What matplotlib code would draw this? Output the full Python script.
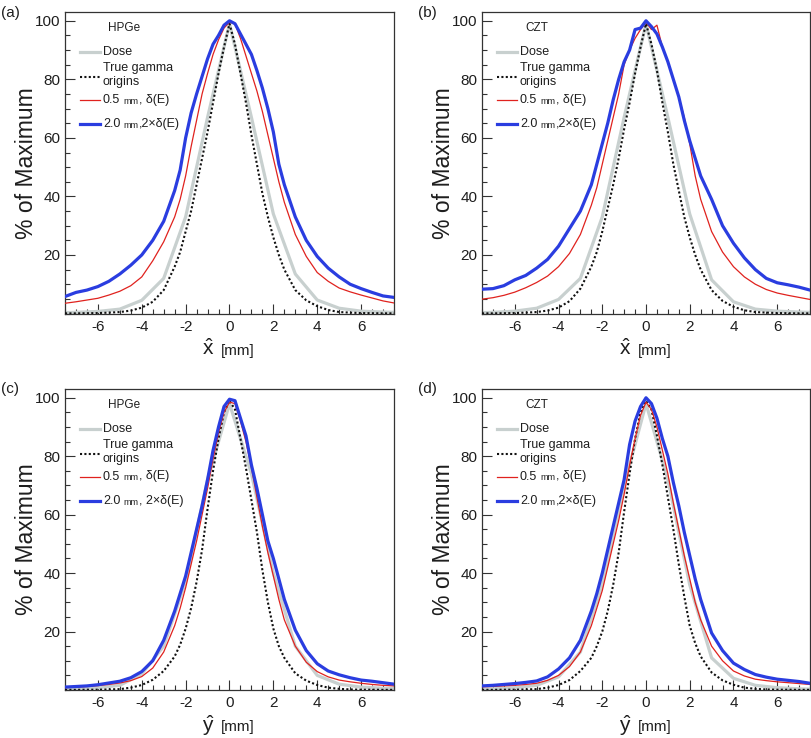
import matplotlib
matplotlib.use("Agg")
import matplotlib.pyplot as plt
from matplotlib.lines import Line2D
from matplotlib.ticker import MultipleLocator

plt.rcParams['font.family'] = ['Liberation Sans', 'DejaVu Sans']
plt.rcParams['mathtext.fontset'] = 'custom'
plt.rcParams['mathtext.rm'] = 'Liberation Sans'

# ---------------- data ----------------
X = [-7.5, -7, -6.5, -6, -5.5, -5, -4.5, -4, -3.5, -3,
     -2.5, -2.25, -2, -1.75, -1.5, -1.25, -1, -0.75, -0.5, -0.25, 0,
     0.25, 0.5, 0.75, 1, 1.25, 1.5, 1.75, 2, 2.25, 2.5,
     3, 3.5, 4, 4.5, 5, 5.5, 6, 6.5, 7, 7.5]
DX = [-7.5, -7, -6, -5, -4, -3, -2, -1, 0, 1, 2, 3, 4, 5, 6, 7, 7.5]

# (a) HPGe, x-hat
dose_a = [0.3, 0.4, 0.7, 1.5, 4.5, 12, 33, 67, 99, 67, 34, 13.5, 4.6, 1.8, 0.8, 0.5, 0.4]
true_a = [0.05, 0.05, 0.1, 0.15, 0.3, 0.5, 1.0, 2.0, 4.0, 8.0,
          16, 21, 28, 35, 44, 53, 62, 72, 82, 91, 99,
          92, 82, 72, 61, 51, 41, 33, 26, 20, 15,
          8, 4.5, 2.5, 1.2, 0.5, 0.3, 0.15, 0.1, 0.05, 0.05]
red_a = [3.5, 4.0, 4.6, 5.2, 6.3, 7.6, 9.5, 12.5, 18, 24.5,
         33, 39, 47, 57, 66, 75, 82, 88.5, 93.5, 97.5, 99.5,
         99, 94, 88, 82, 76, 69, 61, 53, 45, 38,
         27, 19.5, 14, 11, 8.7, 7.4, 6.3, 5.3, 4.3, 3.6]
blue_a = [5.8, 7.2, 8.0, 9.2, 11.0, 13.5, 16.5, 20.0, 25.0, 31.5,
          42, 49, 60, 68.5, 75, 81, 87, 92, 95, 98.5, 100,
          99, 95.5, 92, 88.5, 83, 77, 70, 62, 51, 44,
          33, 25, 19.5, 15.5, 12.5, 10, 8.5, 7.2, 6.0, 5.5]

# (b) CZT, x-hat
dose_b = [0.3, 0.4, 0.8, 1.8, 4.8, 12, 33, 67, 99, 67, 34, 11.5, 4.0, 1.5, 0.8, 0.5, 0.4]
true_b = [0.05, 0.05, 0.1, 0.15, 0.3, 0.5, 1.0, 2.0, 4.2, 8.5,
          16, 21, 28, 36, 44, 53, 63, 72, 82, 91, 99,
          92, 83, 72, 62, 51, 42, 33, 26, 20, 15,
          8, 4.3, 2.3, 1.1, 0.5, 0.3, 0.15, 0.1, 0.05, 0.05]
red_b = [4.9, 5.4, 6.2, 7.3, 8.8, 10.6, 12.8, 16, 20.5, 27,
         37, 43, 51, 59, 67, 75, 85, 90, 94, 97, 99.5,
         97, 98.5, 91, 86, 80, 74, 67, 58, 47, 39,
         28, 21, 16, 12.5, 10, 8.2, 7.0, 6.2, 5.5, 4.8]
blue_b = [8.3, 8.5, 9.5, 11.5, 13, 15.5, 18.5, 23, 29, 35,
          44, 51, 58, 65, 73, 80, 86, 90, 97, 97.5, 100,
          98, 95.5, 91, 86, 80, 74, 66, 59, 53, 47,
          39, 30, 24, 19, 15, 12, 10.5, 9.8, 9.0, 8.0]

# (c) HPGe, y-hat
dose_c = [0.4, 0.5, 0.8, 1.6, 5.5, 15, 37, 72, 98, 74, 40, 15, 5.0, 2.0, 1.0, 0.6, 0.5]
true_c = [0.05, 0.05, 0.1, 0.1, 0.2, 0.3, 0.8, 1.7, 3.5, 6.5,
          11.5, 15.5, 21, 28, 37, 48, 62, 75, 86, 95, 99,
          96, 86, 76, 65, 54, 41, 30, 21, 15, 11,
          5.7, 3.2, 1.7, 0.8, 0.4, 0.2, 0.1, 0.1, 0.05, 0.05]
red_c = [0.8, 1.0, 1.2, 1.5, 1.9, 2.4, 3.2, 4.6, 7.5, 13,
         22, 28, 35, 43, 51, 60, 69, 79, 88, 95, 98.5,
         98, 92, 85, 76, 66, 56, 47, 39, 31, 24,
         15, 9.5, 6.3, 4.5, 3.4, 2.8, 2.3, 1.9, 1.6, 1.4]
blue_c = [1.0, 1.2, 1.4, 1.8, 2.4, 3.0, 4.2, 6.3, 10, 17,
          27, 33, 39, 47, 55, 63, 72, 82, 90, 97, 99.5,
          99, 93, 87, 77, 69, 60, 51, 45, 38, 31,
          20.5, 13.5, 9.0, 6.5, 5.2, 4.2, 3.4, 3.0, 2.5, 2.0]

# (d) CZT, y-hat
dose_d = [0.3, 0.4, 0.8, 1.6, 4.5, 13, 36, 70, 98, 72, 36, 11, 4.0, 1.6, 0.8, 0.4, 0.3]
true_d = [0.05, 0.05, 0.1, 0.1, 0.2, 0.3, 0.8, 1.7, 3.4, 6.5,
          11, 15, 20, 27, 36, 47, 61, 74, 86, 95, 99,
          96, 87, 77, 66, 55, 43, 32, 22, 16, 11.5,
          6, 3.3, 1.8, 0.8, 0.4, 0.2, 0.1, 0.1, 0.05, 0.05]
red_d = [1.1, 1.2, 1.4, 1.6, 1.9, 2.3, 3.3, 5.0, 8, 13,
         22, 28, 34, 42, 50, 58, 67, 77, 86, 94, 98.5,
         96, 90, 82, 74, 64, 55, 46, 38, 30, 24,
         15, 10, 6.5, 4.8, 3.7, 3.2, 2.8, 2.5, 2.2, 1.9]
blue_d = [1.4, 1.6, 1.9, 2.2, 2.6, 3.1, 4.5, 7.2, 11, 17,
          27, 33, 40, 48, 56, 64, 72, 84, 92, 97, 100,
          98, 93, 86, 80, 71, 63, 54, 46, 38, 31,
          19.5, 13.5, 9.2, 7.0, 5.3, 4.4, 3.7, 3.3, 2.9, 2.3]

panel_letters = ['(a)', '(b)', '(c)', '(d)']
detectors = ['HPGe', 'CZT', 'HPGe', 'CZT']
axis_vars = ['x', 'x', 'y', 'y']
xticks = [-6, -4, -2, 0, 2, 4, 6]
yticks = [20, 40, 60, 80, 100]
legend_labels = ['Dose', 'True gamma\norigins']

panels = [
    (dose_a, true_a, red_a, blue_a),
    (dose_b, true_b, red_b, blue_b),
    (dose_c, true_c, red_c, blue_c),
    (dose_d, true_d, red_d, blue_d),
]

# ---------------- style ----------------
C_DOSE = '#c8d0cf'
C_TRUE = '#111111'
C_RED = '#e0221e'
C_BLUE = '#2a3de0'
TXT = '#1e1e1e'

W, H = 812, 738
fig = plt.figure(figsize=(W / 100, H / 100), dpi=100)

# axes rectangles in pixels: left, top, right, bottom
rects = [(65, 12, 394, 313.5), (482, 12, 810, 313.5),
         (65, 389, 394, 690), (482, 389, 810, 690)]

for i, (l, t, r, b) in enumerate(rects):
    ax = fig.add_axes([l / W, 1 - b / H, (r - l) / W, (b - t) / H])
    aw, ah = r - l, b - t
    dose, true, red, blue = panels[i]

    ax.plot(DX, dose, color=C_DOSE, lw=2.3, zorder=2, solid_joinstyle='round')
    ax.plot(X, true, color=C_TRUE, lw=1.5, linestyle=(0, (1, 1.1)), zorder=3)
    ax.plot(X, red, color=C_RED, lw=0.9, zorder=4)
    ax.plot(X, blue, color=C_BLUE, lw=2.3, zorder=5, solid_joinstyle='round')

    ax.set_xlim(-7.5, 7.5)
    ax.set_ylim(0, 103)
    ax.set_xticks(xticks)
    ax.set_xticklabels([str(v) for v in xticks])
    ax.set_yticks(yticks)
    ax.xaxis.set_minor_locator(MultipleLocator(0.5))
    ax.yaxis.set_minor_locator(MultipleLocator(5))
    ax.tick_params(which='major', direction='in', length=7, width=0.8,
                   colors='#333333', labelcolor=TXT, labelsize=11)
    ax.tick_params(which='minor', direction='in', length=3.6, width=0.8,
                   colors='#333333')
    ax.tick_params(axis='y', which='major', pad=3.5)
    ax.tick_params(axis='x', which='major', pad=4.5)
    for s in ax.spines.values():
        s.set_color('#333333')
        s.set_linewidth(0.9)

    def P(dx, dy):
        return (dx / aw, 1 - dy / ah)

    # y label
    ax.text(-38 / aw, 0.5, '% of Maximum', transform=ax.transAxes, rotation=90,
            ha='center', va='center', fontsize=16.5, color=TXT)
    # x label
    v = axis_vars[i]
    ax.text(143 / aw, -41.5 / ah, r'$\hat{\mathrm{%s}}$' % v, transform=ax.transAxes,
            ha='center', va='baseline', fontsize=15, color=TXT)
    ax.text(173 / aw, -41 / ah, '[mm]', transform=ax.transAxes,
            ha='center', va='baseline', fontsize=11, color=TXT)

    # panel letter
    fig.text((l - 55) / W, 1 - (t + 0.5) / H, panel_letters[i], ha='center', va='center',
             fontsize=11, color=TXT)

    # legend
    ax.text(*P(43, 16), detectors[i], transform=ax.transAxes, ha='left', va='center',
            fontsize=8.5, color=TXT)
    handles = [
        (40, dict(color=C_DOSE, lw=2.3)),
        (64.7, dict(color=C_TRUE, lw=1.5, linestyle=(0, (1, 1.1)))),
        (87.5, dict(color=C_RED, lw=0.9)),
        (112, dict(color=C_BLUE, lw=2.3)),
    ]
    for yy, kw in handles:
        x0, y0 = P(15, yy)
        x1, _ = P(35, yy)
        ax.add_line(Line2D([x0, x1], [y0, y0], transform=ax.transAxes, **kw))
    ax.text(*P(38, 40), legend_labels[0], transform=ax.transAxes, ha='left',
            va='center', fontsize=9, color=TXT)
    ax.text(*P(38, 63), legend_labels[1], transform=ax.transAxes, ha='left',
            va='center', fontsize=9, color=TXT, linespacing=1.2)

    blue_tail = ', 2×δ(E)' if i == 2 else ',2×δ(E)'
    rows = [
        (87.5, [('0.5', 9, 0), ('mm', 6.5, 2.5), (', δ(E)', 9, 0)]),
        (112, [('2.0', 9, 0), ('mm', 6.5, 2.5), (blue_tail, 9, 0)]),
    ]
    for yy, pieces in rows:
        prev = None
        for txt, fs, gap in pieces:
            if prev is None:
                prev = ax.annotate(txt, xy=P(38, yy), xycoords='axes fraction',
                                   ha='left', va='center', fontsize=fs, color=TXT)
            else:
                prev = ax.annotate(txt, xy=(1, 0), xycoords=prev,
                                   xytext=(gap, 0), textcoords='offset points',
                                   ha='left', va='bottom', fontsize=fs, color=TXT)

fig.savefig('out.png', dpi=100)
